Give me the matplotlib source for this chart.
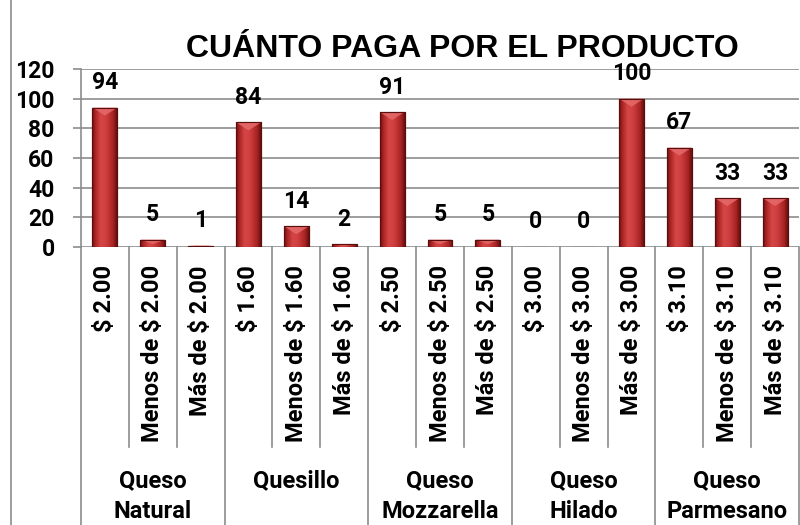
import numpy as np
import matplotlib
matplotlib.use("Agg")
import matplotlib.pyplot as plt
from matplotlib.colors import LinearSegmentedColormap
from matplotlib.patches import Polygon, Rectangle
from matplotlib.transforms import blended_transform_factory
from matplotlib.lines import Line2D

plt.rcParams['text.parse_math'] = False
plt.rcParams['font.family'] = ['Roboto', 'DejaVu Sans']
plt.rcParams['font.weight'] = 'bold'

title = "CUÁNTO PAGA POR EL PRODUCTO"
groups = ["Queso\nNatural", "Quesillo", "Queso\nMozzarella", "Queso\nHilado", "Queso\nParmesano"]
sub_labels = ["$ 2.00", "Menos de $ 2.00", "Más de $ 2.00",
              "$ 1.60", "Menos de $ 1.60", "Más de $ 1.60",
              "$ 2.50", "Menos de $ 2.50", "Más de $ 2.50",
              "$ 3.00", "Menos de $ 3.00", "Más de $ 3.00",
              "$ 3.10", "Menos de $ 3.10", "Más de $ 3.10"]
values = [94, 5, 1, 84, 14, 2, 91, 5, 5, 0, 0, 100, 67, 33, 33]
yticks = [0, 20, 40, 60, 80, 100, 120]

W, H = 800, 525
fig = plt.figure(figsize=(W / 100, H / 100), dpi=100)
ax = fig.add_axes([81 / W, 1 - 247 / H, (799 - 81) / W, (247 - 69) / H])

n = len(values)
x = np.arange(n)
ax.set_xlim(-0.5, n - 0.5)
ax.set_ylim(0, 120)

grid_col = '#8c8c8c'
ax.set_yticks(yticks)
ax.yaxis.grid(True, color=grid_col, linewidth=1.2)
ax.set_axisbelow(True)
for s in ['top', 'right', 'bottom']:
    ax.spines[s].set_visible(False)
ax.spines['left'].set_color(grid_col)
ax.spines['left'].set_linewidth(1.2)
ax.tick_params(axis='y', length=6, width=1.2, color=grid_col, pad=13, labelsize=16.5)
for t in ax.get_yticklabels():
    t.set_fontweight('bold')

ax.set_xticks(x)
ax.set_xticklabels(sub_labels, rotation=90, fontsize=17, fontweight='bold', va='top', ha='center')
ax.tick_params(axis='x', length=0, pad=13)

# bars with cylindrical gradient
bars = ax.bar(x, values, width=0.52, color='#c03030', edgecolor='#5a0e0e', linewidth=0.8, zorder=2)
cmap = LinearSegmentedColormap.from_list('cyl', [
    (0.0, '#6a0f0f'), (0.12, '#a82222'), (0.35, '#d64646'),
    (0.55, '#d04040'), (0.85, '#a82424'), (1.0, '#6a0f0f')])
grad = np.linspace(0, 1, 64).reshape(1, -1)
px_per_unit = (247 - 69) / 120.0
for b in bars:
    h = b.get_height()
    if h <= 0:
        continue
    x0, w = b.get_x(), b.get_width()
    im = ax.imshow(grad, cmap=cmap, extent=[x0, x0 + w, 0, h], aspect='auto', zorder=2.1, interpolation='bicubic')
    im.set_clip_path(b)
    bev = min(8 / px_per_unit, h * 0.6)
    tri = Polygon([[x0, h], [x0 + w, h], [x0 + w / 2, h - bev]], closed=True,
                  facecolor='#e66a6a', edgecolor='none', alpha=0.85, zorder=2.2)
    ax.add_patch(tri)
    ax.add_patch(Rectangle((x0, 0), w, h, facecolor='none', edgecolor='#5a0e0e', linewidth=0.8, zorder=2.3))

ax.set_xlim(-0.5, n - 0.5)
ax.set_ylim(0, 120)

# data labels
for xi, v in zip(x, values):
    ax.annotate(str(v), (xi, v), xytext=(0, 18), textcoords='offset points',
                ha='center', va='center', fontsize=16.5, fontweight='bold', zorder=5)

# category separators
tr = blended_transform_factory(ax.transData, ax.transAxes)
for i in range(n + 1):
    xb = i - 0.5
    if i % 3 == 0:
        y1 = -2.0
    else:
        y1 = (247 - 447) / (247 - 69)
    ax.add_line(Line2D([xb, xb], [0, y1], transform=tr, color=grid_col, linewidth=1.2, clip_on=False))

# group labels
for g, name in enumerate(groups):
    ax.text(3 * g + 1, (247 - 469) / (247 - 69), name, transform=tr, ha='center', va='top',
            fontsize=17, fontweight='bold', linespacing=1.45)

# title
fig.text(462 / W, 1 - 49 / H, title, ha='center', va='center', fontsize=23,
         fontweight='bold', family='Liberation Sans')

# outer chart border
fig.add_artist(Rectangle((11 / W, -0.2), 1.2, 1.2 + (1 - 16 / H), transform=fig.transFigure,
                         facecolor='none', edgecolor=grid_col, linewidth=1.2))

fig.savefig('out.png', dpi=100)
